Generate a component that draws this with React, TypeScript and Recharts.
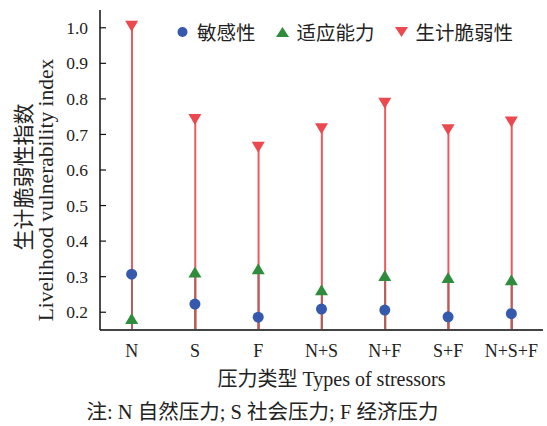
import { ComposedChart, Bar, Scatter, XAxis, YAxis, Legend } from 'recharts'

const categories = ['N', 'S', 'F', 'N+S', 'N+F', 'S+F', 'N+S+F']
const sensitivity = [0.307, 0.223, 0.186, 0.209, 0.206, 0.187, 0.196]
const adaptiveCapacity = [0.182, 0.313, 0.322, 0.263, 0.303, 0.298, 0.291]
const vulnerability = [1.004, 0.742, 0.664, 0.716, 0.788, 0.713, 0.735]
const yTicks = [0.2, 0.3, 0.4, 0.5, 0.6, 0.7, 0.8, 0.9, 1.0]

const FONT = '"Liberation Serif", "Noto Sans CJK SC", serif'
const BLUE = '#3559ad'
const GREEN = '#2f8c3c'
const RED = '#ec4850'
const STEM_RED = '#ea5a60'
const STEM_DARK = '#b0605c'

const data = categories.map((name, i) => ({
  name,
  sens: sensitivity[i],
  adapt: adaptiveCapacity[i],
  vuln: vulnerability[i],
}))

/* marker shapes */
const DotShape = (p: any) => <circle cx={p.cx} cy={p.cy} r={5.5} fill={BLUE} />
const UpShape = (p: any) => (
  <polygon points={`${p.cx - 6.5},${p.cy + 5.5} ${p.cx + 6.5},${p.cy + 5.5} ${p.cx},${p.cy - 5.5}`} fill={GREEN} />
)
const DownShape = (p: any) => (
  <polygon points={`${p.cx - 6.5},${p.cy - 5.5} ${p.cx + 6.5},${p.cy - 5.5} ${p.cx},${p.cy + 5.5}`} fill={RED} />
)

function YTick({ x, y, payload }: any) {
  return (
    <g>
      <line x1={x} x2={x + 6} y1={y} y2={y} stroke="#111" strokeWidth={1.2} />
      <text x={x - 12} y={y} dy="0.35em" textAnchor="end" fontSize={17.5} fontFamily={FONT} fill="#222">
        {Number(payload.value).toFixed(1)}
      </text>
    </g>
  )
}

function XTick({ x, y, payload }: any) {
  return (
    <text x={x} y={y + 27} textAnchor="middle" fontSize={18} fontFamily={FONT} fill="#222">
      {payload.value}
    </text>
  )
}

function YLabel({ viewBox }: any) {
  const cy = viewBox.y + viewBox.height / 2
  return (
    <g fontFamily={FONT} fill="#222">
      <text transform={`translate(31, ${cy + 7}) rotate(-90)`} textAnchor="middle" fontSize={21}>生计脆弱性指数</text>
      <text transform={`translate(53, ${cy + 20}) rotate(-90)`} textAnchor="middle" fontSize={21.5}>Livelihood vulnerability index</text>
    </g>
  )
}

function XLabel({ viewBox }: any) {
  const cx = viewBox.x + viewBox.width / 2
  return (
    <g fontFamily={FONT} fill="#222">
      <text x={cx + 10} y={viewBox.y + 56} textAnchor="middle" fontSize={20}>压力类型 Types of stressors</text>
      <text x={cx - 59} y={viewBox.y + 89} textAnchor="middle" fontSize={20.5}>注: N 自然压力; S 社会压力; F 经济压力</text>
    </g>
  )
}

const legendItems = [
  { label: '敏感性', shape: 'circle', color: BLUE },
  { label: '适应能力', shape: 'up', color: GREEN },
  { label: '生计脆弱性', shape: 'down', color: RED },
]

function LegendContent() {
  return (
    <div style={{ display: 'flex', alignItems: 'center', fontFamily: FONT, fontSize: 19.5, color: '#222' }}>
      {legendItems.map((it) => (
        <div key={it.label} style={{ display: 'flex', alignItems: 'center', marginRight: 20 }}>
          <svg width={13} height={12} style={{ marginRight: 8 }}>
            {it.shape === 'circle' && <circle cx={6.5} cy={6} r={5} fill={it.color} />}
            {it.shape === 'up' && <polygon points="0,11 13,11 6.5,1" fill={it.color} />}
            {it.shape === 'down' && <polygon points="0,1 13,1 6.5,11" fill={it.color} />}
          </svg>
          <span>{it.label}</span>
        </div>
      ))}
    </div>
  )
}

export default function App() {
  return (
    <div style={{ position: 'absolute', left: 0, top: 0, width: 547, height: 426, background: '#fff' }}>
      <ComposedChart width={547} height={426} data={data} margin={{ top: 10, right: 4, bottom: 36, left: 0 }}>
        <XAxis
          dataKey="name"
          xAxisId="main"
          tickSize={0}
          tickMargin={0}
          tick={<XTick />}
          axisLine={{ stroke: '#444', strokeWidth: 2 }}
          height={60}
          label={<XLabel />}
        />
        <XAxis dataKey="name" xAxisId="r" hide height={0} />
        <XAxis dataKey="name" xAxisId="d1" hide height={0} />
        <XAxis dataKey="name" xAxisId="d2" hide height={0} />
        <YAxis
          domain={[0.15, 1.05]}
          ticks={yTicks}
          type="number"
          width={100}
          tickSize={0}
          tickMargin={0}
          tick={<YTick />}
          axisLine={{ stroke: '#111', strokeWidth: 1.5 }}
          allowDataOverflow
          label={<YLabel />}
        />
        <Legend
          layout="horizontal"
          verticalAlign="middle"
          align="center"
          content={<LegendContent />}
          wrapperStyle={{ top: 17, left: 176, width: 380 }}
        />
        <Bar xAxisId="r" dataKey="vuln" barSize={2} fill={STEM_RED} isAnimationActive={false} legendType="none" />
        <Bar xAxisId="d1" dataKey="sens" barSize={2} fill={STEM_DARK} isAnimationActive={false} legendType="none" />
        <Bar xAxisId="d2" dataKey="adapt" barSize={2} fill={STEM_DARK} isAnimationActive={false} legendType="none" />
        <Scatter xAxisId="main" dataKey="sens" name="敏感性" shape={DotShape} isAnimationActive={false} />
        <Scatter xAxisId="main" dataKey="adapt" name="适应能力" shape={UpShape} isAnimationActive={false} />
        <Scatter xAxisId="main" dataKey="vuln" name="生计脆弱性" shape={DownShape} isAnimationActive={false} />
      </ComposedChart>
    </div>
  )
}
